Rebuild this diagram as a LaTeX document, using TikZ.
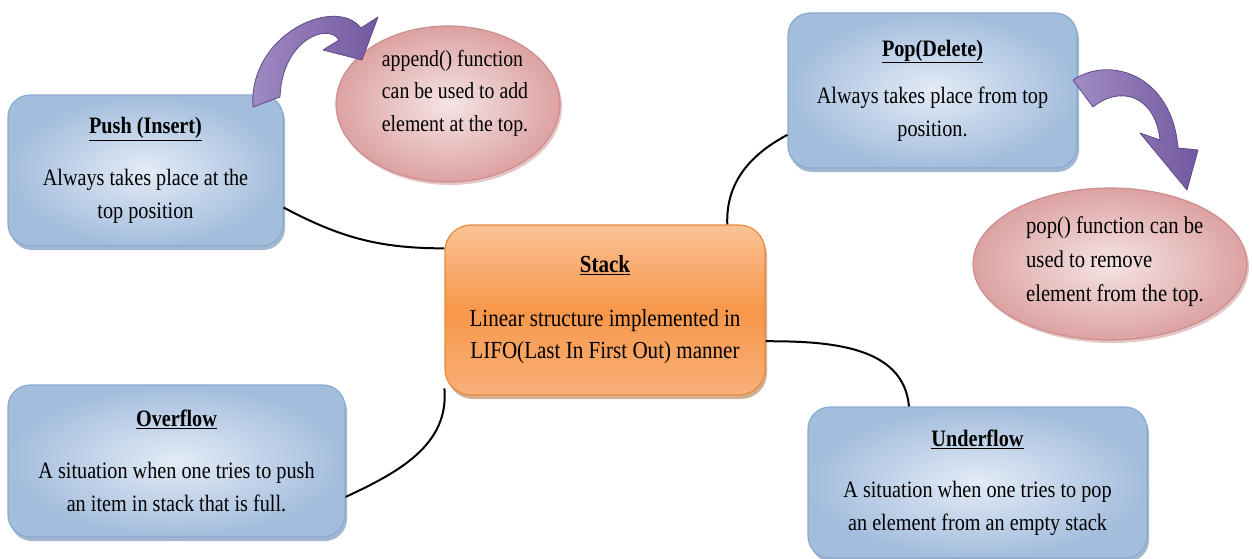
\documentclass[tikz,border=0pt]{standalone}
\usepackage{fontspec}
\setmainfont{Liberation Serif}[FakeStretch=0.86]
\usetikzlibrary{shapes.geometric,shadows}
\definecolor{blueIn}{HTML}{E3EBF6}
\definecolor{blueOut}{HTML}{A3BDDD}
\definecolor{blueLine}{HTML}{8CA9D1}
\definecolor{blueShadow}{HTML}{7D98BD}
\definecolor{orTop}{HTML}{F9C295}
\definecolor{orMid}{HTML}{F7974A}
\definecolor{orBot}{HTML}{F9B07A}
\definecolor{orLine}{HTML}{E9893A}
\definecolor{pinkIn}{HTML}{F5E4E4}
\definecolor{pinkOut}{HTML}{DDA2A2}
\definecolor{pinkLine}{HTML}{CC8E8E}
\definecolor{purA}{HTML}{A18CC4}
\definecolor{purB}{HTML}{7358A0}
\definecolor{purLine}{HTML}{5E4A8A}
\newcommand{\ttl}[1]{\underline{\textbf{#1}}}
\tikzset{
  bluebox/.style={rectangle, rounded corners=22pt, draw=blueLine, line width=1.2pt,
    inner color=blueIn, outer color=blueOut,
    drop shadow={shadow xshift=2pt, shadow yshift=-4pt, fill=blueShadow, opacity=0.7},
    align=center, font=\fontsize{23.5}{33}\selectfont},
  orbox/.style={rectangle, rounded corners=26pt, draw=orLine, line width=1.2pt,
    top color=orTop, bottom color=orBot, middle color=orMid,
    drop shadow={shadow xshift=2pt, shadow yshift=-4pt, fill=orLine!70!black, opacity=0.5},
    align=center, font=\fontsize{24.5}{32}\selectfont},
  pinkell/.style={ellipse, draw=pinkLine, line width=1.2pt, inner color=pinkIn, outer color=pinkOut,
    drop shadow={shadow xshift=2pt, shadow yshift=-3pt, fill=pinkLine, opacity=0.5}},
  etext/.style={align=left, inner sep=0pt},
  conn/.style={line width=2pt, black},
  purarrow/.style={left color=purA, right color=purB, draw=purLine, line width=0.8pt, line join=round}
}
\begin{document}
\begin{tikzpicture}[x=1pt,y=1pt]
\useasboundingbox (0,0) rectangle (1252,-559);

% ellipses
\node[pinkell, minimum width=224, minimum height=156] (app) at (448,-104) {};
\node[etext, font=\fontsize{23}{32.5}\selectfont] (apptxt) at (455,-93) {append() function\\can be used to add\\element at the top.};
\node[pinkell, minimum width=274, minimum height=152] (popel) at (1110,-264) {};
\node[etext, font=\fontsize{24}{34}\selectfont] (poptxt) at (1115,-262) {pop() function can be\\used to remove\\element from the top.};

% boxes
\node[bluebox, minimum width=275, minimum height=151] (push) at (145.5,-170.5)
  {\ttl{Push (Insert)}\\[19pt]Always takes place at the\\top position};
\node[bluebox, minimum width=289, minimum height=155] (pop) at (932.5,-90.5)
  {\ttl{Pop(Delete)}\\[14pt]Always takes place from top\\position.};
\node[orbox, minimum width=320, minimum height=170] (stack) at (605,-310)
  {\ttl{Stack}\\[22pt]Linear structure implemented in\\LIFO(Last In First Out) manner};
\node[bluebox, minimum width=337, minimum height=152] (over) at (176.5,-461)
  {\ttl{Overflow}\\[19pt]A situation when one tries to push\\an item in stack that is full.};
\node[bluebox, minimum width=339, minimum height=151] (under) at (977.5,-482.5)
  {\ttl{Underflow}\\[18pt]A situation when one tries to pop\\an element from an empty stack};

% purple curved arrows
\path[purarrow] (253,-107) .. controls (248,-35) and (335,5) .. (361,-28)
  -- (378,-17) -- (362,-60) -- (323,-50) -- (339,-40)
  .. controls (328,-22) and (282,-40) .. (280,-97) -- cycle;
\path[purarrow] (1073,-80) .. controls (1110,-55) and (1172,-75) .. (1178,-148)
  -- (1198,-150) -- (1187,-190) -- (1140,-133) -- (1160,-140)
  .. controls (1155,-95) and (1120,-85) .. (1093,-107) -- cycle;

% connectors
\draw[conn] (push.-15.6) to[out=-28,in=180] (stack.159);
\draw[conn] (stack.35) to[out=92,in=208] (pop.197);
\draw[conn] (stack.-11.5) to[out=0,in=95] (under.132);
\draw[conn] (stack.206) to[out=-85,in=25] (over.-12);
\end{tikzpicture}
\end{document}
